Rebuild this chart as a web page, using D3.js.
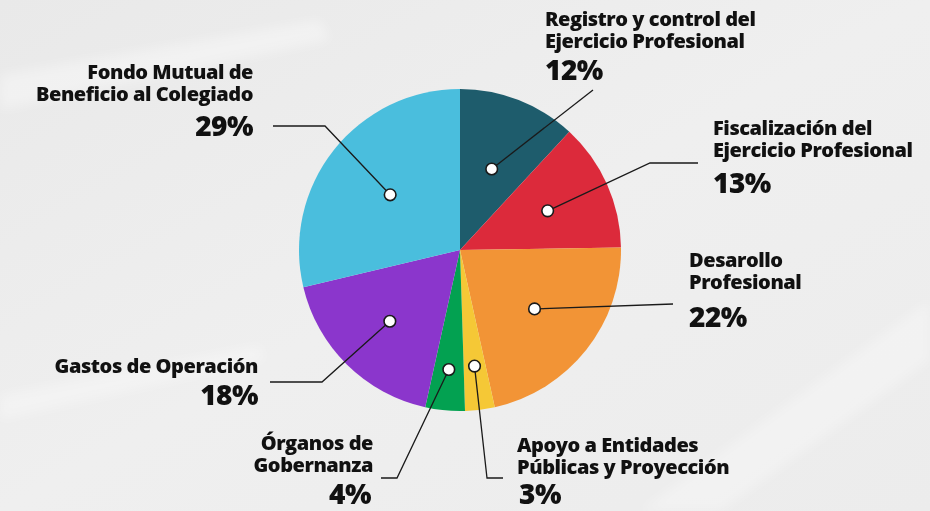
<!DOCTYPE html>
<html>
<head>
<meta charset="utf-8">
<script src="https://cdn.jsdelivr.net/npm/d3@7"></script>
<style>
  html, body { margin: 0; padding: 0; background: #ededed; }
  svg { display: block; }
  text { font-family: "Open Sans", Lato, sans-serif; font-weight: 800; fill: #111; }
</style>
</head>
<body>
<svg id="chart" width="930" height="511"></svg>
<script>
// Budget distribution (percent)
const categories = [
  "Registro y control del|Ejercicio Profesional",
  "Fiscalización del|Ejercicio Profesional",
  "Desarollo|Profesional",
  "Apoyo a Entidades|Públicas y Proyección",
  "Órganos de|Gobernanza",
  "Gastos de Operación",
  "Fondo Mutual de|Beneficio al Colegiado"
];
const values = [12, 13, 22, 3, 4, 18, 29];
const colors = ["#1e5c6c", "#dc2a3b", "#f29436", "#f5c836", "#03a151", "#8b36cc", "#4abedd"];

// Label layout: anchor radius of the marker dot, leader path bend/end, text position
const dotRadius = [87, 96, 95, 117, 120, 100, 89];
const leaderBend = [[593, 90], [650, 163], [673, 304], [487, 478], [397, 478], [322, 382], [325, 126]];
const leaderEnd  = [null, [698, 163], null, [503, 478], [381, 478], [270, 382], [273, 126]];
const labelPos = [
  {x: 545, y: 26, anchor: "start", pctY: 80},
  {x: 713, y: 135, anchor: "start", pctY: 193},
  {x: 689, y: 267, anchor: "start", pctY: 327},
  {x: 517, y: 452, anchor: "start", pctY: 504, pctX: 519},
  {x: 373, y: 450, anchor: "end", pctY: 504, pctX: 371},
  {x: 258, y: 373, anchor: "end", pctY: 405},
  {x: 253, y: 79, anchor: "end", pctY: 136}
];

const svg = d3.select("#chart");
const W = 930, H = 511;
const cx = 460, cy = 250, R = 161;

// Soft background with faint light streaks
const defs = svg.append("defs");
const bg = defs.append("linearGradient").attr("id", "bg").attr("x1", 0).attr("y1", 0).attr("x2", 1).attr("y2", 1);
bg.append("stop").attr("offset", "0%").attr("stop-color", "#e9e9e9");
bg.append("stop").attr("offset", "50%").attr("stop-color", "#efefef");
bg.append("stop").attr("offset", "100%").attr("stop-color", "#ececec");
defs.append("filter").attr("id", "soft").append("feGaussianBlur").attr("stdDeviation", 6);

svg.append("rect").attr("width", W).attr("height", H).attr("fill", "url(#bg)");
const streaks = svg.append("g").attr("filter", "url(#soft)").attr("fill", "#ffffff");
streaks.append("path").attr("d", "M0,75 L320,20 L330,40 L0,110 Z").attr("opacity", 0.35);
streaks.append("path").attr("d", "M640,511 L930,300 L930,360 L720,511 Z").attr("opacity", 0.3);
streaks.append("path").attr("d", "M0,395 L260,345 L265,360 L0,420 Z").attr("opacity", 0.3);

// Pie
const pie = d3.pie().sort(null).value(d => d)(values);
const arc = d3.arc().innerRadius(0).outerRadius(R);

const g = svg.append("g").attr("transform", `translate(${cx},${cy})`);
g.selectAll("path.slice")
  .data(pie)
  .join("path")
  .attr("class", "slice")
  .attr("d", arc)
  .attr("fill", (d, i) => colors[i]);

// Leader lines and marker dots
const dots = pie.map((d, i) => {
  const a = (d.startAngle + d.endAngle) / 2;
  return [cx + dotRadius[i] * Math.sin(a), cy - dotRadius[i] * Math.cos(a)];
});

const line = d3.line();
svg.append("g").selectAll("path")
  .data(pie)
  .join("path")
  .attr("d", (d, i) => {
    const pts = [dots[i], leaderBend[i]];
    if (leaderEnd[i]) pts.push(leaderEnd[i]);
    return line(pts);
  })
  .attr("fill", "none")
  .attr("stroke", "#1a1a1a")
  .attr("stroke-width", 1.3);

svg.append("g").selectAll("circle")
  .data(dots)
  .join("circle")
  .attr("cx", d => d[0])
  .attr("cy", d => d[1])
  .attr("r", 5.8)
  .attr("fill", "#fff")
  .attr("stroke", "#1a1a1a")
  .attr("stroke-width", 1.6);

// Labels
const labels = svg.append("g");
categories.forEach((c, i) => {
  const p = labelPos[i];
  const t = labels.append("text")
    .attr("text-anchor", p.anchor)
    .attr("font-size", 20)
    .attr("letter-spacing", -0.45);
  c.split("|").forEach((ln, k) => {
    t.append("tspan").attr("x", p.x).attr("y", p.y + k * 21.5).text(ln);
  });
  labels.append("text")
    .attr("text-anchor", p.anchor)
    .attr("x", p.pctX != null ? p.pctX : p.x)
    .attr("y", p.pctY)
    .attr("font-size", 28)
    .attr("letter-spacing", -0.5)
    .text(values[i] + "%");
});
</script>
</body>
</html>
